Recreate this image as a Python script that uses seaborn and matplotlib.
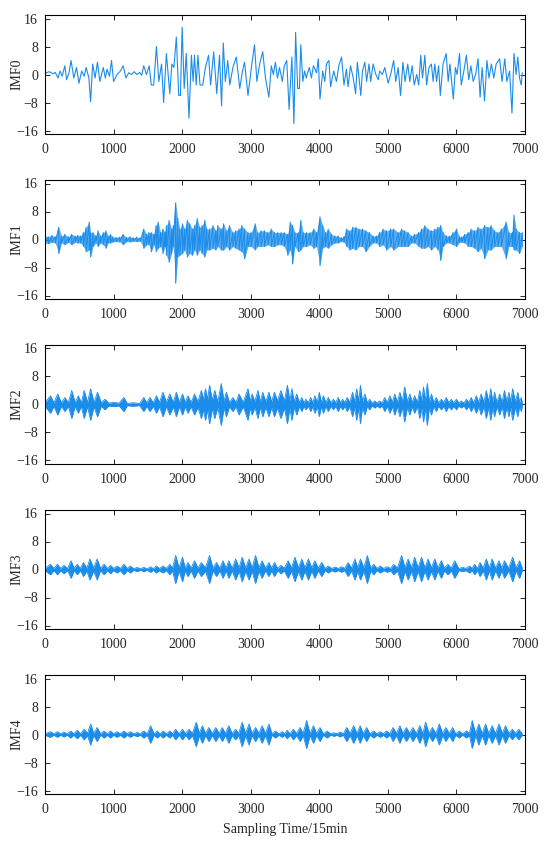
import numpy as np
import pandas as pd
import matplotlib
matplotlib.use("Agg")
import matplotlib.pyplot as plt
import seaborn as sns

# ---- data (sample index, value) ----
imf0_t = [0, 60, 120, 150, 190, 220, 250, 290, 315, 350,
          380, 420, 460, 495, 535, 570, 600, 640, 665, 695,
          730, 765, 800, 850, 880, 905, 940, 970, 1000, 1050,
          1100, 1140, 1180, 1220, 1260, 1300, 1340, 1380, 1410, 1440,
          1480, 1520, 1550, 1585, 1625, 1660, 1700, 1730, 1770, 1820,
          1850, 1880, 1915, 1950, 1975, 2000, 2030, 2060, 2100, 2135,
          2160, 2180, 2205, 2230, 2260, 2300, 2340, 2385, 2415, 2460,
          2505, 2545, 2575, 2600, 2630, 2665, 2695, 2740, 2790, 2840,
          2880, 2910, 2960, 3010, 3055, 3090, 3130, 3175, 3215, 3265,
          3300, 3330, 3360, 3390, 3420, 3460, 3490, 3525, 3560, 3600,
          3630, 3655, 3685, 3710, 3730, 3760, 3785, 3810, 3830, 3855,
          3885, 3915, 3960, 3985, 4010, 4050, 4080, 4105, 4140, 4165,
          4210, 4250, 4285, 4325, 4360, 4395, 4420, 4455, 4495, 4530,
          4555, 4580, 4605, 4630, 4665, 4690, 4725, 4750, 4785, 4825,
          4860, 4880, 4920, 4955, 5005, 5040, 5085, 5115, 5150, 5185,
          5220, 5250, 5290, 5320, 5355, 5385, 5420, 5450, 5480, 5505,
          5540, 5565, 5600, 5635, 5660, 5685, 5710, 5740, 5765, 5805,
          5850, 5880, 5905, 5955, 5985, 6010, 6045, 6070, 6100, 6145,
          6180, 6210, 6245, 6280, 6315, 6345, 6375, 6410, 6445, 6475,
          6510, 6545, 6580, 6630, 6665, 6705, 6735, 6775, 6810, 6840,
          6870, 6895, 6920, 6945, 6960]
imf0_v = [0.3, 0.8, 0.2, 0.6, -1.0, 1.0, -0.5, 2.5, -1.5, 0.5,
          4.0, -1.0, 2.0, -2.5, 1.0, -0.5, 2.0, -1.0, -7.8, 3.0,
          -1.0, 3.5, -2.0, 2.0, -1.0, 1.5, -0.5, 4.0, -2.0, 0.0,
          1.0, 2.5, -1.0, 0.5, 0.0, 0.8, 0.0, 0.6, -0.2, 2.5,
          0.0, 2.5, -3.0, -3.0, 8.0, -2.0, 3.0, -8.0, 6.0, -5.5,
          3.0, 2.0, 10.7, -6.0, -6.0, 13.5, -4.0, 6.0, -12.5, 5.5,
          -2.0, 5.5, -3.0, 5.5, -3.0, -3.0, 2.0, 5.5, -3.0, 6.5,
          -5.5, 5.5, -9.0, 9.0, -2.0, 4.0, -3.0, 2.0, 5.0, -4.0,
          1.0, 3.5, -6.0, 2.0, 8.5, -2.0, 3.0, 6.5, -1.0, -6.5,
          2.5, 0.0, 3.5, -1.0, 2.0, -2.0, 2.5, 4.0, -10.0, 5.0,
          -14.0, 12.0, -4.0, -4.0, 8.5, -2.0, 1.0, -1.0, 0.5, 2.0,
          -1.0, 2.5, 0.5, 4.5, -7.0, 1.0, -2.0, 3.0, 4.0, -3.5,
          1.0, -2.0, 2.5, 5.0, -3.0, 1.5, -3.5, 2.5, -1.0, -5.5,
          3.5, -1.0, -6.0, 1.0, 3.5, -2.0, 3.0, -2.0, 3.0, 0.0,
          -1.5, 1.0, 0.0, 2.0, -2.5, 0.0, 4.0, -2.0, 2.0, -6.0,
          3.5, -2.0, 3.0, -2.0, 2.5, -3.0, 0.0, -3.0, 5.5, -1.0,
          5.5, -3.0, 2.0, 3.0, -2.0, 3.0, -2.0, 2.5, -6.0, 3.0,
          6.0, -2.0, 3.0, -7.0, 2.0, 0.0, 6.0, -3.0, 0.0, 5.5,
          -1.5, 2.5, -2.0, 0.0, 4.5, -6.5, 2.0, -7.5, 4.0, -1.0,
          3.0, -1.0, 3.0, 4.5, -2.0, 4.5, -2.0, 1.0, -11.0, 6.0,
          0.0, 5.0, -1.0, -3.0, 0.5]

# IMF1: spike tops and bottoms
imf1_t = [0, 50, 100, 150, 200, 240, 290, 340, 390, 440,
          480, 520, 560, 600, 645, 665, 700, 740, 775, 810,
          850, 890, 920, 955, 990, 1040, 1090, 1140, 1190, 1240,
          1290, 1340, 1390, 1440, 1480, 1515, 1550, 1590, 1620, 1650,
          1685, 1720, 1750, 1770, 1810, 1845, 1870, 1905, 1935, 1965,
          2005, 2035, 2075, 2110, 2150, 2180, 2220, 2255, 2290, 2330,
          2360, 2400, 2450, 2490, 2520, 2570, 2605, 2645, 2690, 2740,
          2780, 2830, 2870, 2910, 2960, 3005, 3065, 3100, 3150, 3200,
          3250, 3300, 3345, 3395, 3445, 3490, 3540, 3575, 3610, 3645,
          3695, 3730, 3765, 3815, 3865, 3920, 3960, 4010, 4050, 4090,
          4130, 4180, 4230, 4275, 4325, 4360, 4400, 4445, 4485, 4535,
          4580, 4630, 4680, 4730, 4785, 4835, 4880, 4930, 4980, 5040,
          5085, 5150, 5200, 5245, 5295, 5345, 5390, 5450, 5490, 5540,
          5585, 5635, 5685, 5730, 5770, 5805, 5855, 5900, 5950, 6000,
          6045, 6080, 6120, 6170, 6215, 6265, 6315, 6360, 6410, 6460,
          6505, 6555, 6605, 6655, 6725, 6765, 6815, 6840, 6870, 6920,
          6960]
imf1_up = [1.0, 0.8, 1.2, 0.8, 3.5, 1.0, 1.5, 0.8, 1.5, 1.0,
           1.2, 1.0, 2.0, 3.5, 5.0, 2.0, 2.0, 1.0, 2.5, 1.0,
           2.0, 2.5, 1.0, 1.5, 0.7, 0.6, 0.7, 1.5, 0.6, 0.8,
           0.5, 0.7, 0.5, 3.0, 1.5, 2.0, 2.0, 1.5, 4.0, 5.0,
           2.0, 3.0, 2.0, 4.0, 5.5, 3.0, 4.0, 10.5, 6.0, 3.0,
           4.5, 3.0, 5.5, 4.5, 3.0, 4.0, 6.0, 3.5, 4.0, 5.5,
           3.0, 3.0, 4.0, 2.5, 4.0, 3.0, 4.5, 2.5, 4.0, 2.0,
           2.5, 3.0, 4.0, 3.0, 2.0, 2.0, 4.5, 2.0, 2.5, 2.5,
           2.0, 3.0, 2.0, 2.0, 2.0, 2.0, 1.5, 5.0, 4.0, 2.0,
           2.0, 5.5, 2.0, 2.0, 2.0, 3.0, 2.0, 6.5, 4.0, 2.0,
           3.0, 1.5, 1.0, 1.0, 0.5, 0.8, 3.0, 2.5, 3.5, 3.5,
           3.0, 3.0, 2.5, 2.0, 1.0, 1.0, 2.0, 3.0, 2.5, 3.0,
           3.0, 2.0, 3.0, 2.5, 2.0, 1.0, 1.5, 2.0, 3.0, 4.0,
           3.0, 2.5, 3.0, 3.5, 4.0, 2.0, 1.0, 1.0, 2.0, 3.0,
           0.8, 0.8, 1.5, 2.0, 3.0, 2.5, 3.5, 3.0, 4.0, 3.5,
           4.0, 2.5, 2.0, 3.0, 5.0, 2.0, 2.0, 7.0, 3.0, 2.0,
           2.0]
imf1_lo = [-1.0, -1.2, -0.8, -1.0, -4.0, -1.0, -1.5, -0.8, -1.5, -0.8,
           -1.0, -1.0, -2.0, -3.5, -3.0, -5.0, -2.0, -1.0, -2.0, -1.0,
           -1.5, -2.5, -1.0, -1.0, -0.7, -0.6, -0.7, -1.5, -0.6, -0.7,
           -0.5, -0.6, -0.5, -2.5, -1.5, -1.5, -3.5, -1.5, -3.5, -2.5,
           -2.0, -4.0, -2.0, -4.5, -6.5, -4.0, -2.0, -12.5, -5.0, -4.5,
           -4.0, -3.0, -5.0, -4.0, -4.5, -3.0, -4.5, -3.0, -4.0, -5.0,
           -3.0, -3.0, -2.5, -3.0, -2.0, -3.0, -3.0, -2.0, -3.0, -2.0,
           -2.5, -3.0, -3.5, -5.5, -2.0, -2.0, -3.0, -2.0, -2.0, -2.0,
           -1.5, -2.0, -2.0, -1.5, -1.5, -2.0, -4.5, -3.0, -7.0, -2.0,
           -3.5, -3.0, -2.0, -2.0, -1.5, -2.5, -2.0, -7.5, -2.5, -2.0,
           -2.5, -1.5, -1.0, -1.0, -0.5, -0.8, -2.0, -3.0, -2.5, -3.0,
           -2.0, -2.0, -3.5, -2.0, -1.0, -1.0, -2.0, -1.5, -3.0, -2.0,
           -3.0, -2.0, -2.0, -2.0, -2.0, -1.0, -1.0, -2.0, -2.5, -2.5,
           -2.0, -3.0, -2.0, -3.0, -6.0, -2.0, -1.0, -1.0, -1.5, -2.0,
           -0.8, -0.8, -1.0, -2.0, -2.0, -2.5, -3.5, -2.5, -5.5, -3.0,
           -3.0, -2.0, -2.0, -2.0, -5.5, -2.0, -2.0, -3.0, -3.0, -4.0,
           -2.0]

# IMF2..IMF4: burst envelopes (peak / gap amplitude)
imf2_t = [0, 80, 130, 185, 240, 290, 340, 390, 440, 485,
          530, 570, 620, 665, 715, 765, 820, 875, 930, 1000,
          1080, 1150, 1200, 1280, 1380, 1440, 1485, 1530, 1580, 1625,
          1670, 1720, 1770, 1820, 1870, 1915, 1960, 2005, 2045, 2085,
          2130, 2180, 2230, 2280, 2310, 2340, 2370, 2400, 2440, 2475,
          2520, 2570, 2610, 2645, 2690, 2740, 2785, 2830, 2890, 2960,
          2990, 3020, 3060, 3105, 3140, 3175, 3220, 3265, 3305, 3345,
          3390, 3440, 3490, 3535, 3570, 3600, 3635, 3670, 3710, 3745,
          3775, 3805, 3840, 3875, 3905, 3935, 3970, 4000, 4030, 4060,
          4095, 4130, 4170, 4205, 4240, 4275, 4310, 4340, 4375, 4405,
          4445, 4485, 4515, 4545, 4575, 4600, 4630, 4665, 4700, 4735,
          4770, 4810, 4845, 4880, 4915, 4955, 4990, 5030, 5065, 5100,
          5140, 5175, 5210, 5245, 5285, 5320, 5355, 5390, 5430, 5465,
          5495, 5520, 5545, 5575, 5605, 5635, 5670, 5705, 5740, 5780,
          5815, 5850, 5890, 5925, 5960, 6000, 6035, 6070, 6110, 6145,
          6180, 6215, 6250, 6290, 6325, 6360, 6400, 6435, 6470, 6500,
          6530, 6555, 6590, 6630, 6665, 6700, 6735, 6765, 6790, 6820,
          6860, 6895, 6920, 6945, 6960]
imf2_amp = [0.5, 2.5, 0.5, 3.0, 0.5, 2.0, 0.5, 4.0, 0.5, 2.5,
            0.5, 4.0, 0.6, 4.5, 0.6, 3.5, 0.5, 1.5, 0.4, 0.6,
            0.4, 2.0, 0.3, 0.5, 0.3, 2.0, 0.5, 2.0, 0.5, 2.5,
            0.6, 3.5, 0.6, 3.0, 0.6, 3.5, 0.6, 3.0, 0.6, 2.5,
            0.6, 3.0, 0.8, 4.0, 1.5, 4.5, 1.5, 5.5, 1.2, 4.0,
            0.8, 6.0, 1.0, 3.5, 0.6, 2.0, 0.6, 3.0, 0.6, 4.5,
            1.0, 3.0, 0.8, 4.0, 0.8, 3.5, 0.8, 3.5, 0.8, 3.5,
            1.0, 4.0, 1.0, 5.5, 1.0, 4.5, 0.8, 3.0, 0.6, 2.0,
            0.5, 1.5, 0.5, 2.0, 0.5, 2.5, 0.6, 3.5, 0.6, 2.5,
            0.5, 2.0, 0.5, 1.5, 0.5, 2.0, 0.5, 1.5, 0.5, 2.0,
            0.6, 3.5, 0.8, 4.5, 1.0, 5.5, 0.8, 3.0, 0.5, 1.5,
            0.4, 1.0, 0.4, 1.0, 0.4, 2.0, 0.5, 2.5, 0.6, 3.0,
            0.6, 3.5, 0.8, 5.0, 0.8, 3.0, 0.6, 2.5, 0.6, 4.0,
            1.0, 5.0, 1.0, 6.0, 0.8, 3.0, 0.5, 2.0, 0.5, 1.5,
            0.5, 2.0, 0.5, 1.5, 0.5, 1.5, 0.4, 1.0, 0.4, 1.5,
            0.5, 2.0, 0.5, 2.5, 0.6, 3.0, 0.6, 4.0, 0.8, 4.5,
            0.8, 3.5, 0.6, 3.0, 0.6, 4.0, 0.8, 3.5, 0.8, 4.5,
            0.8, 3.5, 0.6, 2.0, 0.5]

imf3_t = [0, 80, 130, 180, 230, 275, 330, 380, 425, 470,
          515, 560, 610, 655, 710, 760, 810, 860, 910, 955,
          1000, 1050, 1100, 1150, 1200, 1245, 1295, 1345, 1390, 1440,
          1490, 1540, 1580, 1625, 1670, 1720, 1770, 1820, 1860, 1905,
          1955, 2005, 2045, 2085, 2130, 2180, 2230, 2280, 2340, 2400,
          2450, 2500, 2550, 2595, 2640, 2680, 2730, 2780, 2830, 2875,
          2925, 2975, 3020, 3070, 3120, 3165, 3215, 3265, 3305, 3345,
          3395, 3440, 3490, 3545, 3595, 3645, 3695, 3745, 3790, 3840,
          3890, 3935, 3985, 4035, 4085, 4130, 4180, 4230, 4280, 4325,
          4370, 4420, 4470, 4520, 4560, 4600, 4650, 4700, 4750, 4795,
          4840, 4890, 4940, 4990, 5040, 5085, 5140, 5200, 5250, 5295,
          5345, 5390, 5440, 5490, 5540, 5585, 5635, 5685, 5730, 5780,
          5825, 5875, 5925, 5975, 6035, 6095, 6140, 6190, 6230, 6265,
          6305, 6345, 6390, 6435, 6480, 6520, 6570, 6620, 6660, 6700,
          6760, 6820, 6870, 6920, 6960]
imf3_amp = [0.3, 1.5, 0.3, 1.5, 0.3, 1.2, 0.3, 2.5, 0.3, 1.5,
            0.3, 2.0, 0.4, 3.0, 0.4, 3.0, 0.3, 1.5, 0.3, 1.2,
            0.3, 1.0, 0.3, 1.5, 0.3, 1.0, 0.2, 0.6, 0.2, 0.6,
            0.2, 0.8, 0.2, 1.0, 0.3, 1.0, 0.3, 1.5, 0.4, 4.0,
            0.5, 3.5, 0.4, 2.0, 0.4, 2.5, 0.4, 2.0, 0.5, 4.0,
            0.4, 2.0, 0.4, 2.5, 0.4, 2.5, 0.4, 3.0, 0.5, 3.5,
            0.5, 3.0, 0.5, 4.0, 0.5, 2.5, 0.4, 2.0, 0.4, 2.0,
            0.3, 1.2, 0.4, 2.5, 0.5, 3.5, 0.5, 3.0, 0.5, 3.0,
            0.5, 2.5, 0.4, 2.0, 0.3, 1.0, 0.3, 0.7, 0.3, 0.8,
            0.3, 2.0, 0.4, 3.0, 0.5, 3.0, 0.5, 4.0, 0.4, 1.5,
            0.3, 1.0, 0.3, 0.8, 0.3, 1.5, 0.4, 4.0, 0.5, 3.0,
            0.5, 3.5, 0.5, 3.5, 0.5, 3.0, 0.5, 3.0, 0.4, 2.5,
            0.4, 1.5, 0.4, 2.5, 0.3, 0.6, 0.3, 1.0, 0.3, 1.5,
            0.3, 2.0, 0.4, 3.0, 0.4, 3.0, 0.4, 2.5, 0.4, 2.5,
            0.4, 3.5, 0.4, 2.5, 0.4]

imf4_t = [0, 80, 130, 180, 230, 275, 325, 375, 420, 470,
          520, 570, 620, 665, 710, 760, 810, 860, 910, 955,
          1000, 1050, 1100, 1150, 1200, 1245, 1295, 1345, 1390, 1440,
          1490, 1540, 1590, 1635, 1680, 1720, 1770, 1820, 1860, 1905,
          1955, 2005, 2050, 2100, 2150, 2205, 2250, 2295, 2340, 2390,
          2440, 2490, 2540, 2585, 2630, 2680, 2730, 2780, 2825, 2875,
          2925, 2975, 3020, 3070, 3120, 3165, 3215, 3265, 3310, 3360,
          3410, 3460, 3495, 3530, 3575, 3620, 3670, 3720, 3765, 3815,
          3865, 3915, 3960, 4010, 4060, 4115, 4165, 4215, 4260, 4300,
          4350, 4400, 4450, 4500, 4550, 4595, 4640, 4690, 4740, 4795,
          4840, 4890, 4935, 4980, 5030, 5075, 5125, 5175, 5220, 5270,
          5320, 5365, 5415, 5465, 5510, 5550, 5600, 5650, 5700, 5750,
          5800, 5845, 5895, 5945, 5990, 6040, 6090, 6145, 6190, 6230,
          6280, 6325, 6375, 6425, 6470, 6520, 6570, 6620, 6670, 6715,
          6765, 6815, 6860, 6910, 6960]
imf4_amp = [0.2, 0.8, 0.2, 0.8, 0.2, 0.7, 0.2, 1.0, 0.2, 1.2,
            0.2, 1.5, 0.3, 3.0, 0.3, 2.0, 0.2, 1.0, 0.2, 1.0,
            0.2, 0.8, 0.2, 1.0, 0.2, 0.8, 0.2, 0.6, 0.2, 1.0,
            0.2, 2.5, 0.2, 1.0, 0.2, 1.0, 0.2, 1.0, 0.2, 1.5,
            0.2, 1.5, 0.2, 1.5, 0.3, 3.5, 0.4, 2.5, 0.3, 2.0,
            0.3, 2.0, 0.3, 2.0, 0.3, 2.5, 0.3, 1.5, 0.3, 3.5,
            0.3, 3.0, 0.3, 2.0, 0.3, 2.5, 0.3, 3.0, 0.2, 1.0,
            0.2, 0.8, 0.2, 1.2, 0.2, 1.5, 0.3, 2.0, 0.3, 4.0,
            0.3, 2.5, 0.3, 2.0, 0.2, 1.0, 0.2, 0.5, 0.2, 0.7,
            0.2, 2.0, 0.3, 2.5, 0.3, 2.5, 0.3, 2.0, 0.2, 1.0,
            0.2, 0.8, 0.2, 1.0, 0.2, 2.0, 0.3, 2.5, 0.3, 2.0,
            0.3, 2.0, 0.3, 2.5, 0.3, 3.5, 0.3, 2.0, 0.3, 3.0,
            0.3, 2.0, 0.3, 2.0, 0.2, 1.0, 0.2, 1.0, 0.3, 4.0,
            0.3, 3.0, 0.3, 3.0, 0.3, 2.5, 0.3, 3.0, 0.3, 2.5,
            0.3, 1.5, 0.3, 1.5, 0.2]

panel_names = ["IMF0", "IMF1", "IMF2", "IMF3", "IMF4"]
x_ticks = [0, 1000, 2000, 3000, 4000, 5000, 6000, 7000]
y_ticks = [-16, -8, 0, 8, 16]

BLUE = "#1a8cea"


def style_axis(ax, name):
    ax.set_xlim(0, 7000)
    ax.set_ylim(-17, 17)
    ax.set_xticks(x_ticks)
    ax.set_yticks(y_ticks)
    ax.tick_params(direction="in", top=True, right=True, length=3.5,
                   width=0.7, labelsize=10)
    ax.tick_params(axis="x", pad=6.5)
    ax.tick_params(axis="y", pad=5)
    for sp in ax.spines.values():
        sp.set_linewidth(0.8)
        sp.set_color("black")
    ax.set_ylabel(name, fontsize=10)
    ax.yaxis.set_label_coords(-0.044, 0.5)
    ax.set_xlabel("")


def draw_spikes(ax, t, up, lo):
    # zigzag through each spike top and bottom
    zx = np.repeat(np.asarray(t, float), 2)
    zy = np.column_stack([up, lo]).ravel()
    ax.fill_between(t, lo, up, color=BLUE, lw=0, alpha=0.7)
    sns.lineplot(x=zx, y=zy, ax=ax, color=BLUE, lw=0.7,
                 estimator=None, sort=False)


def draw_bursts(ax, t, amp):
    a = np.asarray(amp, float)
    ax.fill_between(t, -a, a, color=BLUE, lw=0)
    env = pd.DataFrame({"t": list(t) + list(t),
                        "v": list(a) + list(-a),
                        "side": ["up"] * len(t) + ["lo"] * len(t)})
    sns.lineplot(data=env, x="t", y="v", units="side", estimator=None,
                 ax=ax, color=BLUE, lw=0.6, sort=False)


sns.set_style("ticks")
plt.rcParams["font.family"] = ["Liberation Serif", "DejaVu Serif"]
plt.rcParams["axes.unicode_minus"] = True

fig = plt.figure(figsize=(5.5, 8.42), dpi=100)
W, H = 550.0, 842.0
axes = []
for k in range(5):
    top = 15 + 165 * k
    ax = fig.add_axes([45 / W, 1 - (top + 119) / H, 480 / W, 119 / H])
    axes.append(ax)

sns.lineplot(x=imf0_t, y=imf0_v, ax=axes[0], color=BLUE, lw=0.8,
             estimator=None, sort=False)
draw_spikes(axes[1], imf1_t, imf1_up, imf1_lo)
draw_bursts(axes[2], imf2_t, imf2_amp)
draw_bursts(axes[3], imf3_t, imf3_amp)
draw_bursts(axes[4], imf4_t, imf4_amp)

for ax, name in zip(axes, panel_names):
    style_axis(ax, name)

axes[4].set_xlabel("Sampling Time/15min", fontsize=10, labelpad=5)

fig.savefig("out.png", dpi=100, facecolor="white")
plt.close(fig)
